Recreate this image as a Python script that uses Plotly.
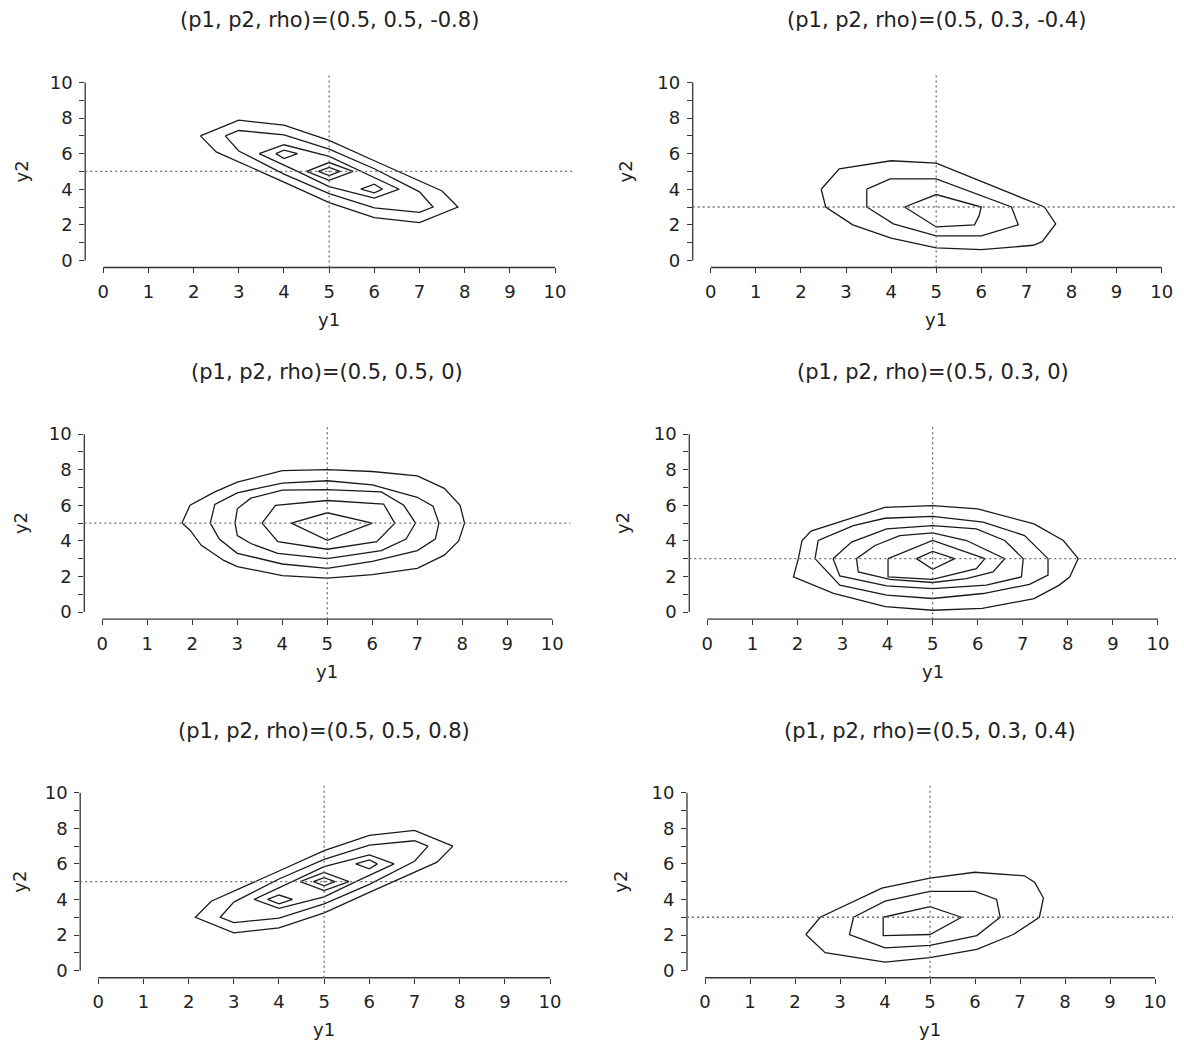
import plotly.graph_objects as go

# ---------------- data ----------------
TICKS_X = list(range(0, 11))
TICKS_Y_MAJOR = [0, 2, 4, 6, 8, 10]

TITLES = [
    "(p1, p2, rho)=(0.5, 0.5, -0.8)",
    "(p1, p2, rho)=(0.5, 0.3, -0.4)",
    "(p1, p2, rho)=(0.5, 0.5, 0)",
    "(p1, p2, rho)=(0.5, 0.3, 0)",
    "(p1, p2, rho)=(0.5, 0.5, 0.8)",
    "(p1, p2, rho)=(0.5, 0.3, 0.4)",
]
MEAN_Y1 = [5, 5, 5, 5, 5, 5]
MEAN_Y2 = [5, 3, 5, 3, 5, 3]

# panel 1: (0.5, 0.5, -0.8)
P1_X = [
    [2.15, 3.0, 4.0, 5.0, 6.0, 7.0, 7.5, 7.85, 7.0, 6.0, 5.0, 4.0, 3.0, 2.5, 2.15],
    [2.7, 3.0, 4.0, 5.0, 6.0, 7.0, 7.3, 7.0, 6.0, 5.0, 4.0, 3.0, 2.7],
    [3.45, 4.0, 5.0, 5.7, 6.0, 6.55, 6.0, 5.0, 4.3, 4.0, 3.45],
    [3.82, 4.0, 4.3, 4.0, 3.82],
    [4.5, 5.0, 5.53, 5.0, 4.5],
    [4.76, 5.0, 5.24, 5.0, 4.76],
    [5.7, 6.0, 6.18, 6.0, 5.7],
]
P1_Y = [
    [7.0, 7.88, 7.6, 6.75, 5.6, 4.45, 3.9, 3.0, 2.12, 2.4, 3.25, 4.4, 5.55, 6.1, 7.0],
    [7.0, 7.3, 7.05, 6.25, 5.15, 3.85, 3.0, 2.7, 2.95, 3.75, 4.85, 6.15, 7.0],
    [6.0, 6.5, 5.85, 5.0, 4.65, 4.0, 3.5, 4.15, 5.0, 5.35, 6.0],
    [6.0, 6.2, 6.0, 5.72, 6.0],
    [5.0, 5.5, 5.0, 4.5, 5.0],
    [5.0, 5.23, 5.0, 4.77, 5.0],
    [4.0, 4.28, 4.0, 3.8, 4.0],
]

# panel 2: (0.5, 0.3, -0.4)
P2_X = [
    [2.45, 2.55, 3.15, 4.0, 5.0, 6.0, 7.15, 7.35, 7.65, 7.4, 5.0, 4.0, 2.85, 2.45],
    [3.46, 3.46, 4.05, 5.0, 6.0, 6.82, 6.67, 5.0, 3.98, 3.46],
    [4.3, 5.0, 6.0, 5.95, 5.85, 5.0, 4.3],
]
P2_Y = [
    [4.0, 3.0, 2.0, 1.25, 0.7, 0.6, 0.85, 1.05, 2.05, 3.0, 5.47, 5.6, 5.15, 4.0],
    [4.0, 3.0, 2.05, 1.38, 1.38, 2.0, 3.0, 4.58, 4.58, 4.0],
    [3.0, 3.7, 3.0, 2.5, 2.0, 1.88, 3.0],
]

# panel 3: (0.5, 0.5, 0)
P3_X = [
    [1.77, 1.95, 2.5, 3.0, 4.0, 5.0, 6.0, 7.0, 7.6, 7.95, 8.05, 7.92, 7.6, 7.0, 6.0, 5.0, 4.0, 3.0, 2.7, 2.2, 1.95, 1.77],
    [2.4, 2.5, 3.0, 4.0, 5.0, 6.0, 7.0, 7.35, 7.48, 7.4, 7.0, 6.0, 5.0, 4.0, 3.0, 2.6, 2.4],
    [2.95, 3.0, 3.3, 4.0, 5.0, 6.2, 6.7, 6.96, 6.75, 6.2, 5.0, 3.9, 3.3, 3.0, 2.95],
    [3.55, 3.85, 5.0, 6.25, 6.5, 6.1, 5.0, 3.9, 3.55],
    [4.2, 5.0, 6.0, 5.0, 4.2],
]
P3_Y = [
    [5.0, 6.0, 6.75, 7.3, 7.95, 8.0, 7.9, 7.65, 6.95, 6.0, 5.0, 4.0, 3.2, 2.45, 2.1, 1.9, 2.05, 2.55, 2.9, 3.75, 4.6, 5.0],
    [5.0, 6.05, 6.7, 7.25, 7.38, 7.15, 6.45, 5.95, 5.0, 4.1, 3.45, 2.85, 2.45, 2.7, 3.3, 4.1, 5.0],
    [5.0, 5.8, 6.4, 6.85, 6.88, 6.75, 6.0, 5.0, 4.1, 3.45, 3.0, 3.3, 3.85, 4.3, 5.0],
    [5.0, 6.0, 6.27, 6.07, 5.0, 3.95, 3.53, 3.95, 5.0],
    [5.0, 5.58, 5.0, 4.03, 5.0],
]

# panel 4: (0.5, 0.3, 0)
P4_X = [
    [2.02, 2.1, 2.3, 3.94, 5.0, 6.0, 7.25, 7.9, 8.23, 8.04, 7.8, 7.25, 6.1, 5.0, 3.95, 2.8, 1.91, 2.02],
    [2.39, 2.46, 3.24, 3.94, 5.0, 6.12, 7.04, 7.56, 7.56, 7.15, 6.12, 5.0, 3.98, 2.94, 2.39],
    [2.79, 3.2, 3.98, 5.0, 5.97, 6.6, 7.01, 6.97, 6.19, 5.0, 3.98, 2.94, 2.79],
    [3.31, 3.72, 4.27, 5.0, 5.75, 6.6, 6.34, 5.75, 5.0, 4.05, 3.35, 3.31],
    [4.01, 5.0, 6.16, 5.97, 5.0, 4.01, 4.01],
    [4.64, 5.0, 5.49, 5.0, 4.64],
]
P4_Y = [
    [3.0, 4.0, 4.55, 5.88, 5.98, 5.8, 4.95, 4.02, 3.0, 1.97, 1.5, 0.75, 0.2, 0.1, 0.3, 1.05, 1.97, 3.0],
    [3.0, 4.02, 4.86, 5.27, 5.38, 5.05, 4.3, 3.0, 2.07, 1.55, 1.04, 0.76, 0.95, 1.51, 3.0],
    [3.0, 3.93, 4.67, 4.86, 4.67, 4.02, 3.0, 1.97, 1.51, 1.32, 1.47, 2.03, 3.0],
    [3.0, 3.74, 4.3, 4.45, 4.02, 3.0, 2.25, 1.88, 1.66, 1.84, 2.25, 3.0],
    [3.0, 4.02, 3.0, 2.44, 1.84, 1.97, 3.0],
    [3.0, 3.41, 3.0, 2.4, 3.0],
]

# panel 5: (0.5, 0.5, 0.8)
P5_X = [
    [7.85, 7.0, 6.0, 5.0, 4.0, 3.0, 2.5, 2.15, 3.0, 4.0, 5.0, 6.0, 7.0, 7.5, 7.85],
    [7.3, 7.0, 6.0, 5.0, 4.0, 3.0, 2.7, 3.0, 4.0, 5.0, 6.0, 7.0, 7.3],
    [6.55, 6.0, 5.0, 4.3, 4.0, 3.45, 4.0, 5.0, 5.7, 6.0, 6.55],
    [6.18, 6.0, 5.7, 6.0, 6.18],
    [4.47, 5.0, 5.55, 5.0, 4.47],
    [4.76, 5.0, 5.24, 5.0, 4.76],
    [4.3, 4.0, 3.75, 4.0, 4.3],
]
P5_Y = [
    [7.0, 7.88, 7.6, 6.75, 5.6, 4.45, 3.9, 3.0, 2.12, 2.4, 3.25, 4.4, 5.55, 6.1, 7.0],
    [7.0, 7.3, 7.05, 6.25, 5.15, 3.85, 3.0, 2.7, 2.95, 3.75, 4.85, 6.15, 7.0],
    [6.0, 6.5, 5.85, 5.0, 4.65, 4.0, 3.5, 4.15, 5.0, 5.35, 6.0],
    [6.0, 6.22, 6.0, 5.72, 6.0],
    [5.0, 5.52, 5.0, 4.5, 5.0],
    [5.0, 5.23, 5.0, 4.77, 5.0],
    [4.0, 4.25, 4.0, 3.75, 4.0],
]

# panel 6: (0.5, 0.3, 0.4)
P6_X = [
    [2.24, 2.56, 3.93, 5.0, 6.0, 7.1, 7.33, 7.52, 7.43, 6.85, 6.04, 5.0, 4.0, 2.67, 2.24],
    [3.3, 4.0, 5.0, 6.0, 6.48, 6.56, 6.04, 5.0, 4.0, 3.21, 3.3],
    [3.96, 5.0, 5.7, 5.0, 3.96, 3.96],
]
P6_Y = [
    [2.03, 3.0, 4.64, 5.2, 5.53, 5.33, 4.95, 4.08, 3.0, 2.03, 1.19, 0.73, 0.48, 1.01, 2.03],
    [3.0, 3.9, 4.45, 4.45, 4.0, 3.0, 1.97, 1.42, 1.28, 2.03, 3.0],
    [3.0, 3.6, 3.0, 2.03, 1.97, 3.0],
]

PANELS_X = [P1_X, P2_X, P3_X, P4_X, P5_X, P6_X]
PANELS_Y = [P1_Y, P2_Y, P3_Y, P4_Y, P5_Y, P6_Y]

# ---------------- layout (pixel boxes of each plotting region) ----------------
W, H = 1184, 1052
PAGE_OFFSET = 8  # default body margin of the html page
BOXES = [  # left, right, top, bottom in page px
    (85.2, 573.1, 71.8, 265.2),
    (692.7, 1179.7, 71.8, 265.2),
    (84.3, 570.3, 425.8, 619.2),
    (689.3, 1176.0, 425.8, 619.2),
    (80.2, 568.1, 786.8, 980.2),
    (687.0, 1173.0, 786.8, 980.2),
]
Y2_TITLE_PAGE_X = [21, 625, 20, 622, 20, 621]

FONT = "DejaVu Sans"
AX_COLOR = "#333333"
LINE_COLOR = "#1a1a1a"
REF_COLOR = "#6f6f6f"

fig = go.Figure()
layout = dict(
    width=W, height=H,
    margin=dict(l=0, r=0, t=0, b=0, pad=0),
    paper_bgcolor="white", plot_bgcolor="white",
    showlegend=False,
    font=dict(family=FONT, color="#222222", size=18),
)
shapes = []
annotations = []

for i in range(6):
    n = i + 1
    xa = "x" if n == 1 else f"x{n}"
    ya = "y" if n == 1 else f"y{n}"
    xk = "xaxis" if n == 1 else f"xaxis{n}"
    yk = "yaxis" if n == 1 else f"yaxis{n}"
    l, r, t, b = [v - PAGE_OFFSET for v in BOXES[i]]
    layout[xk] = dict(
        domain=[l / W, r / W], anchor=ya, range=[-0.4, 10.4],
        tickmode="array", tickvals=TICKS_X, ticktext=[str(v) for v in TICKS_X],
        ticks="outside", ticklen=5, tickwidth=1.2, tickcolor=AX_COLOR,
        showline=False, showgrid=False, zeroline=False,
        tickfont=dict(family=FONT, size=18, color="#222222"),
        ticklabelstandoff=3, fixedrange=True,
    )
    layout[yk] = dict(
        domain=[1 - b / H, 1 - t / H], anchor=xa, range=[-0.4, 10.4],
        tickmode="array", tickvals=TICKS_Y_MAJOR, ticktext=[str(v) for v in TICKS_Y_MAJOR],
        ticks="outside", ticklen=5, tickwidth=1.2, tickcolor=AX_COLOR,
        minor=dict(dtick=1, tick0=0, ticks="outside", ticklen=5, tickwidth=1.2,
                   tickcolor=AX_COLOR, showgrid=False),
        showline=False, showgrid=False, zeroline=False,
        tickfont=dict(family=FONT, size=18, color="#222222"),
        ticklabelstandoff=3, fixedrange=True,
    )

    # contours
    for cx, cy in zip(PANELS_X[i], PANELS_Y[i]):
        fig.add_trace(go.Scatter(
            x=cx, y=cy, mode="lines", xaxis=xa, yaxis=ya,
            line=dict(color=LINE_COLOR, width=1.3), hoverinfo="skip",
        ))

    # axis lines spanning first to last tick (R style)
    shapes.append(dict(type="line", xref=xa, yref=f"{ya} domain",
                       x0=TICKS_X[0], x1=TICKS_X[-1], y0=0, y1=0,
                       line=dict(color=AX_COLOR, width=1.3)))
    shapes.append(dict(type="line", xref=f"{xa} domain", yref=ya,
                       x0=0, x1=0, y0=TICKS_Y_MAJOR[0], y1=TICKS_Y_MAJOR[-1],
                       line=dict(color=AX_COLOR, width=1.3)))
    # dotted mean reference lines
    shapes.append(dict(type="line", xref=xa, yref=f"{ya} domain",
                       x0=MEAN_Y1[i], x1=MEAN_Y1[i], y0=0, y1=1,
                       line=dict(color=REF_COLOR, width=1.3, dash="2px,3px")))
    shapes.append(dict(type="line", xref=f"{xa} domain", yref=ya,
                       x0=0, x1=1, y0=MEAN_Y2[i], y1=MEAN_Y2[i],
                       line=dict(color=REF_COLOR, width=1.3, dash="2px,3px")))

    # panel title
    annotations.append(dict(text=TITLES[i], xref=f"{xa} domain", yref=f"{ya} domain",
                            x=0.5, y=1, yshift=55, xanchor="center", yanchor="middle",
                            showarrow=False, font=dict(family=FONT, size=21, color="#222222")))
    # axis titles
    annotations.append(dict(text="y1", xref=f"{xa} domain", yref=f"{ya} domain",
                            x=0.5, y=0, yshift=-52, xanchor="center", yanchor="middle",
                            showarrow=False, font=dict(family=FONT, size=18, color="#222222")))
    annotations.append(dict(text="y2", xref=f"{xa} domain", yref=f"{ya} domain",
                            x=0, y=0.5, xshift=Y2_TITLE_PAGE_X[i] - BOXES[i][0],
                            xanchor="center", yanchor="middle",
                            textangle=-90, showarrow=False, borderpad=0,
                            font=dict(family=FONT, size=18, color="#222222")))

layout["shapes"] = shapes
layout["annotations"] = annotations
fig.update_layout(**layout)
fig.write_html("out.html")
